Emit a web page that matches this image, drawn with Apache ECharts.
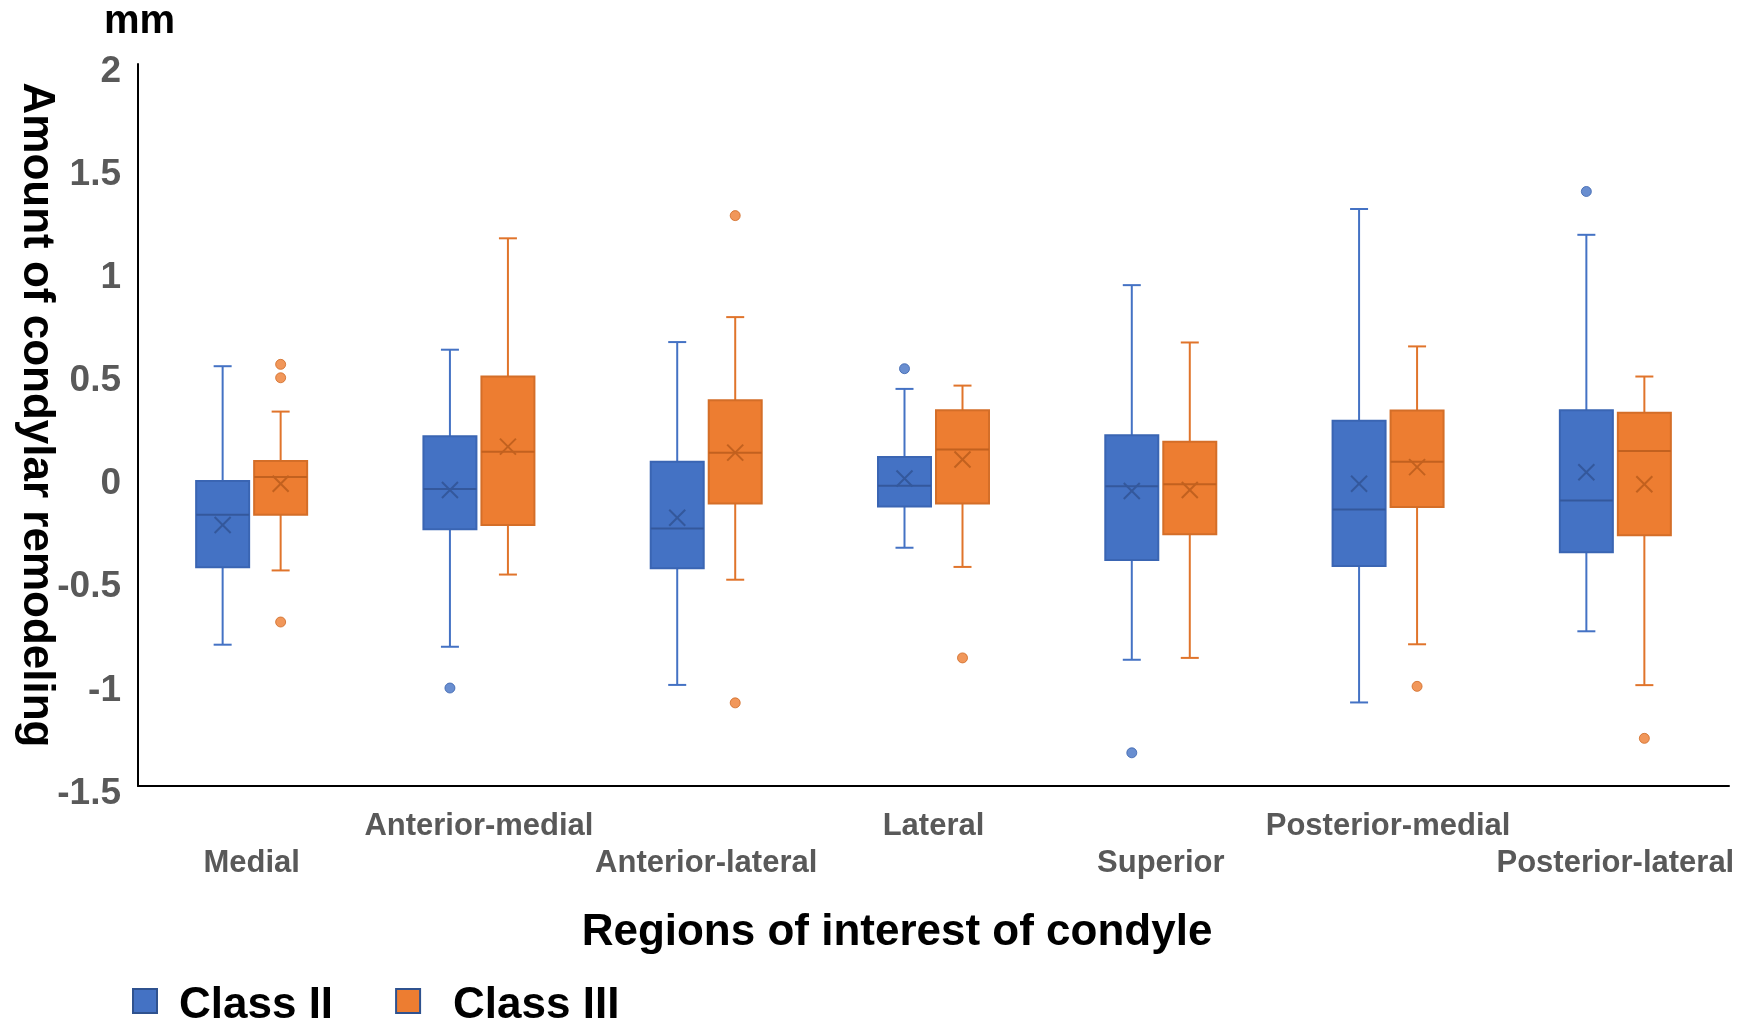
<!DOCTYPE html>
<html>
<head>
<meta charset="utf-8">
<script src="https://cdn.jsdelivr.net/npm/echarts@6/dist/echarts.min.js"></script>
<style>
html,body{margin:0;padding:0;background:#fff;}
#chart{width:1759px;height:1027px;}
</style>
</head>
<body>
<div id="chart"></div>
<script>
// ---------- data ----------
const categories = ['Medial','Anterior-medial','Anterior-lateral','Lateral','Superior','Posterior-medial','Posterior-lateral'];
const yTicks = { min: -1.5, max: 2, interval: 0.5 };

// [min, Q1, median, Q3, max]
const classIIBox = [
  [-0.815, -0.44, -0.185, -0.022, 0.535],
  [-0.825, -0.255, -0.06, 0.195, 0.615],
  [-1.01, -0.445, -0.252, 0.072, 0.652],
  [-0.345, -0.145, -0.045, 0.095, 0.425],
  [-0.888, -0.405, -0.047, 0.2, 0.928],
  [-1.095, -0.433, -0.16, 0.271, 1.297],
  [-0.75, -0.367, -0.116, 0.322, 1.172]
];
const classIIMean = [-0.235, -0.065, -0.2, -0.009, -0.07, -0.035, 0.021];
// [category index, value]
const classIIOutliers = [[1, -1.025], [3, 0.523], [4, -1.339], [6, 1.382]];

const classIIIBox = [
  [-0.455, -0.185, -0.002, 0.076, 0.315],
  [-0.475, -0.235, 0.12, 0.485, 1.155],
  [-0.5, -0.131, 0.116, 0.37, 0.773],
  [-0.438, -0.131, 0.131, 0.322, 0.441],
  [-0.879, -0.279, -0.037, 0.169, 0.65],
  [-0.813, -0.147, 0.072, 0.32, 0.631],
  [-1.011, -0.285, 0.124, 0.309, 0.485]
];
const classIIIMean = [-0.035, 0.145, 0.116, 0.083, -0.065, 0.046, -0.037];
const classIIIOutliers = [[0, 0.544], [0, 0.479], [0, -0.705], [2, 1.265], [2, -1.097], [3, -0.879], [5, -1.017], [6, -1.269]];

// ---------- styles ----------
const FONT = "'Liberation Sans', Arial, Helvetica, sans-serif";
const BOX_W = 53, CAP_W = 18, MEAN_S = 16, OFFSET = 29;
const blue = { fill: '#4472C4', border: '#3A65B3', whisker: '#4472C4', median: '#34589C' };
const orange = { fill: '#ED7D31', border: '#D46E28', whisker: '#E0742B', median: '#C2611F' };

function buildData(box, mean) {
  return box.map((b, i) => [i, b[0], b[1], b[2], b[3], b[4], mean[i]]);
}

function makeRender(offset, c) {
  return function (params, api) {
    const ci = api.value(0);
    const x = api.coord([ci, 0])[0] + offset;
    const Y = v => api.coord([ci, v])[1];
    const yMin = Y(api.value(1)), yQ1 = Y(api.value(2)), yMed = Y(api.value(3)),
          yQ3 = Y(api.value(4)), yMax = Y(api.value(5)), yMean = Y(api.value(6));
    const hw = BOX_W / 2, cw = CAP_W / 2, m = MEAN_S / 2;
    const ws = { stroke: c.whisker, lineWidth: 2 };
    const ms = { stroke: c.median, lineWidth: 2 };
    return {
      type: 'group',
      children: [
        { type: 'line', shape: { x1: x, y1: yQ3, x2: x, y2: yMax }, style: ws },
        { type: 'line', shape: { x1: x - cw, y1: yMax, x2: x + cw, y2: yMax }, style: ws },
        { type: 'line', shape: { x1: x, y1: yQ1, x2: x, y2: yMin }, style: ws },
        { type: 'line', shape: { x1: x - cw, y1: yMin, x2: x + cw, y2: yMin }, style: ws },
        { type: 'rect', shape: { x: x - hw, y: yQ3, width: BOX_W, height: yQ1 - yQ3 },
          style: { fill: c.fill, stroke: c.border, lineWidth: 2 } },
        { type: 'line', shape: { x1: x - hw, y1: yMed, x2: x + hw, y2: yMed }, style: ms },
        { type: 'line', shape: { x1: x - m, y1: yMean - m, x2: x + m, y2: yMean + m }, style: ms },
        { type: 'line', shape: { x1: x - m, y1: yMean + m, x2: x + m, y2: yMean - m }, style: ms }
      ]
    };
  };
}

const chart = echarts.init(document.getElementById('chart'), null, { renderer: 'canvas' });

const option = {
  backgroundColor: '#ffffff',
  animation: false,
  textStyle: { fontFamily: FONT },
  grid: { left: 138, right: 30, top: 64, bottom: 241, containLabel: false },
  xAxis: {
    type: 'category',
    data: categories,
    boundaryGap: true,
    axisLine: { show: true, onZero: false, lineStyle: { color: '#000000', width: 2 } },
    axisTick: { show: false },
    splitLine: { show: false },
    axisLabel: {
      interval: 0,
      margin: 22,
      fontSize: 31,
      lineHeight: 37,
      fontWeight: 'bold',
      color: '#595959',
      fontFamily: FONT,
      formatter: function (v, i) { return i % 2 === 1 ? v : '\n' + v; }
    }
  },
  yAxis: {
    type: 'value',
    min: yTicks.min,
    max: yTicks.max,
    interval: yTicks.interval,
    axisLine: { show: true, lineStyle: { color: '#000000', width: 2 } },
    axisTick: { show: false },
    splitLine: { show: false },
    axisLabel: {
      margin: 17,
      fontSize: 37,
      lineHeight: 15,
      fontWeight: 'bold',
      color: '#595959',
      fontFamily: FONT,
      formatter: function (v) { return '\n' + v; }
    }
  },
  legend: {
    left: 132,
    top: 974,
    padding: 0,
    orient: 'horizontal',
    itemWidth: 24,
    itemHeight: 24,
    itemGap: 62,
    icon: 'rect',
    selectedMode: false,
    formatter: function (name) { return '\n' + name; },
    textStyle: { fontSize: 44, lineHeight: 10, fontWeight: 'bold', color: '#000000', fontFamily: FONT },
    data: [
      { name: 'Class II', itemStyle: { color: '#4472C4', borderColor: '#2F528F', borderWidth: 2 },
        textStyle: { fontSize: 44, lineHeight: 10, fontWeight: 'bold', color: '#000000', fontFamily: FONT, padding: [0, 0, 0, 17] } },
      { name: 'Class III', itemStyle: { color: '#ED7D31', borderColor: '#2F528F', borderWidth: 2 },
        textStyle: { fontSize: 44, lineHeight: 10, fontWeight: 'bold', color: '#000000', fontFamily: FONT, padding: [0, 0, 0, 28] } }
    ]
  },
  graphic: [
    { type: 'text', left: 104, top: 2,
      style: { text: 'mm', font: 'bold 40px ' + FONT, fill: '#000' } },
    { type: 'text', x: 36, y: 415, rotation: -Math.PI / 2,
      style: { text: 'Amount of condylar remodeling', font: 'bold 44px ' + FONT, fill: '#000',
               textAlign: 'center', textVerticalAlign: 'middle' } },
    { type: 'text', x: 897, y: 933,
      style: { text: 'Regions of interest of condyle', font: 'bold 44px ' + FONT, fill: '#000',
               textAlign: 'center', textVerticalAlign: 'middle' } }
  ],
  series: [
    {
      name: 'Class II', type: 'custom',
      itemStyle: { color: '#4472C4' },
      renderItem: makeRender(-OFFSET, blue),
      encode: { x: 0, y: [1, 2, 3, 4, 5] },
      data: buildData(classIIBox, classIIMean),
      z: 2
    },
    {
      name: 'Class III', type: 'custom',
      itemStyle: { color: '#ED7D31' },
      renderItem: makeRender(OFFSET, orange),
      encode: { x: 0, y: [1, 2, 3, 4, 5] },
      data: buildData(classIIIBox, classIIIMean),
      z: 2
    },
    {
      name: 'Class II', type: 'scatter',
      symbol: 'circle', symbolSize: 10, symbolOffset: [-OFFSET, 0],
      itemStyle: { color: '#4472C4', borderColor: '#3A63AE', borderWidth: 1 },
      data: classIIOutliers, z: 3
    },
    {
      name: 'Class III', type: 'scatter',
      symbol: 'circle', symbolSize: 10, symbolOffset: [OFFSET, 0],
      itemStyle: { color: '#ED7D31', borderColor: '#D06A25', borderWidth: 1 },
      data: classIIIOutliers, z: 3
    }
  ]
};
chart.setOption(option);
</script>
</body>
</html>
